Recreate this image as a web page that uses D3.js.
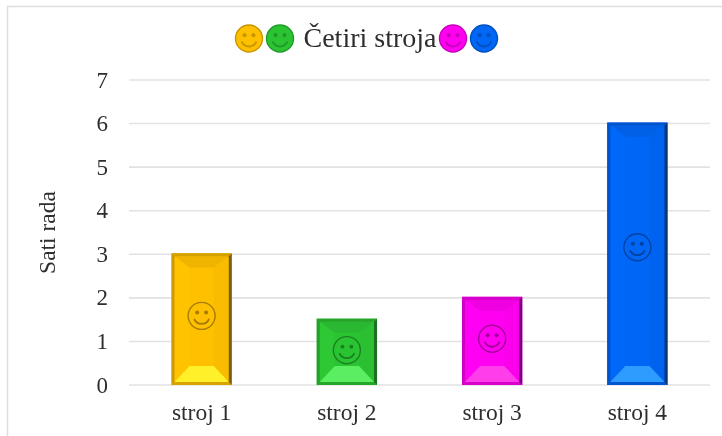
<!DOCTYPE html>
<html><head><meta charset="utf-8">
<script src="https://cdn.jsdelivr.net/npm/d3@7"></script>
<style>html,body{margin:0;padding:0;background:#fff}svg{display:block}text{font-family:"Liberation Serif",serif;fill:#2e2e2e}</style>
</head><body><div id="c"></div>
<script>
const categories=["stroj 1","stroj 2","stroj 3","stroj 4"];
const values=[3,1.5,2,6];
const colors=["#FFC000","#2CC433","#FF00F0","#0066F5"];
const lightColors=["#FFF02A","#5CEE62","#FF3EEA","#2F9BFF"];
const darkColors=["#7A5E08","#1F6E22","#7A0080","#0A3478"];
const yTicks=[0,1,2,3,4,5,6,7];
const titleText="Četiri stroja";
const yTitle="Sati rada";
const W=722,H=436;
const svg=d3.select("#c").append("svg").attr("width",W).attr("height",H);
const defs=svg.append("defs");
defs.append("filter").attr("id","soft").attr("filterUnits","userSpaceOnUse").attr("x",0).attr("y",0).attr("width",W).attr("height",H)
 .append("feGaussianBlur").attr("stdDeviation",0.7);
const root=svg.append("g").attr("filter","url(#soft)");
root.append("rect").attr("width",W).attr("height",H).attr("fill","#fff");
root.append("rect").attr("x",7.5).attr("y",6.5).attr("width",730).attr("height",440).attr("fill","#fff").attr("stroke","#dedede").attr("stroke-width",1.5);
const x=d3.scaleBand().domain(categories).range([129,710]).paddingInner(0.585).paddingOuter(0.2925);
const y=d3.scaleLinear().domain([0,7]).range([385,80]);
root.append("g").selectAll("line").data(yTicks).join("line")
 .attr("x1",129).attr("x2",710).attr("y1",d=>y(d)).attr("y2",d=>y(d)).attr("stroke","#e2e2e2").attr("stroke-width",1.6);
root.append("g").selectAll("text").data(yTicks).join("text")
 .attr("x",108).attr("y",d=>y(d)).attr("dy","0.33em").attr("text-anchor","end").attr("font-size",23).text(d=>d);
root.append("g").selectAll("text").data(categories).join("text")
 .attr("x",d=>x(d)+x.bandwidth()/2).attr("y",420).attr("text-anchor","middle").attr("font-size",23.5).text(d=>d);
root.append("text").attr("transform","translate(55,232.5) rotate(-90)").attr("text-anchor","middle").attr("font-size",23.5).text(yTitle);
root.append("text").attr("x",370).attr("y",47).attr("text-anchor","middle").attr("font-size",28).text(titleText);

function smiley(g,cx,cy,r,fill,stroke,sw){
 const s=g.append("g").attr("transform",`translate(${cx},${cy})`);
 s.append("circle").attr("r",r).attr("fill",fill).attr("stroke",stroke).attr("stroke-width",sw);
 s.selectAll("circle.e").data([-1,1]).join("circle").attr("class","e").attr("cx",d=>d*r*0.33).attr("cy",-r*0.25).attr("r",r*0.15).attr("fill",stroke);
 s.append("path").attr("d",d3.arc()({innerRadius:r*0.52,outerRadius:r*0.66,startAngle:Math.PI*0.62,endAngle:Math.PI*1.38})).attr("fill",stroke);
}
const bars=root.append("g").selectAll("g").data(categories).join("g");
bars.each(function(c,i){
 const g=d3.select(this),bx=x(c),bw=x.bandwidth(),top=y(values[i])-1,bot=y(0),h=bot-top;
 const col=d3.color(colors[i]);
 const b=3,ins=16,side=15;
 const poly=(pts,fill)=>g.append("polygon").attr("points",pts.map(p=>p.join(",")).join(" ")).attr("fill",fill);
 const l=bx,r=bx+bw,il=l+b,ir=r-b,it=top+b,ib=bot-b;
 g.append("rect").attr("x",l).attr("y",top).attr("width",bw).attr("height",h).attr("fill",colors[i]);
 poly([[il,it],[ir,it],[ir-side,it+ins*0.7],[il+side,it+ins*0.7]],col.darker(0.18));
 poly([[il,it],[il+side,it+ins*0.7],[il+side,ib-ins],[il,ib]],col.brighter(0.05));
 poly([[ir,it],[ir-side,it+ins*0.7],[ir-side,ib-ins],[ir,ib]],col.darker(0.06));
 poly([[il,ib],[ir,ib],[ir-side,ib-ins],[il+side,ib-ins]],lightColors[i]);
 poly([[l,top],[r,top],[ir,it],[il,it]],col.darker(0.5));
 poly([[l,bot],[r,bot],[ir,ib],[il,ib]],col.darker(0.45));
 poly([[l,top],[il,it],[il,ib],[l,bot]],col.darker(0.6));
 poly([[r,top],[ir,it],[ir,ib],[r,bot]],darkColors[i]);
 smiley(g,bx+bw/2,bot-h*0.525,13.5,"none",col.darker(1.2),1.4);
});
const legendX=[249,280,453,484];
colors.forEach((c,i)=>{
 const col=d3.color(c);
 smiley(root,legendX[i],38.5,13.5,c,col.darker(0.7),1.4);
});
</script></body></html>
